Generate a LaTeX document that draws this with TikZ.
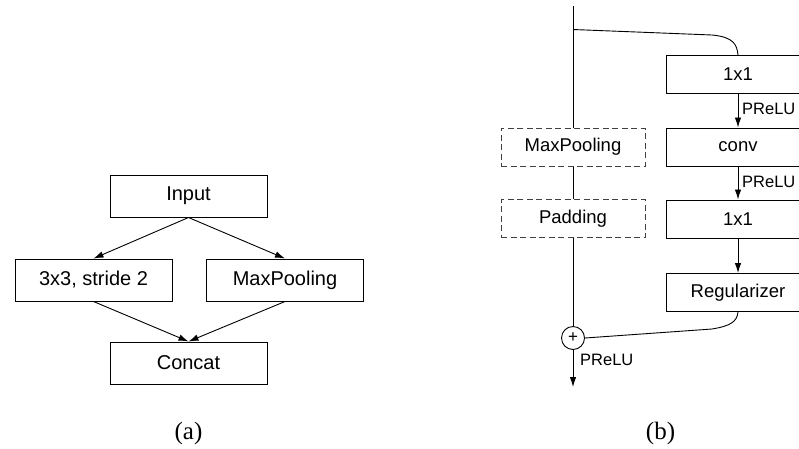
\documentclass[tikz,border=0pt]{standalone}
\usepackage{fontspec}
\newfontfamily\boxfont{Liberation Sans}
\newfontfamily\capfont{Liberation Serif}
\usetikzlibrary{arrows.meta}
\begin{document}
\begin{tikzpicture}[x=1pt,y=-1pt,
  blk/.style={draw, line width=1pt, minimum width=157pt, minimum height=42pt, inner sep=0pt, font=\boxfont\fontsize{20}{23}\selectfont},
  rblk/.style={draw, line width=1pt, minimum width=144pt, minimum height=38pt, inner sep=0pt, font=\boxfont\fontsize{18.5}{21}\selectfont},
  dblk/.style={rblk, draw=black!75, dash pattern=on 6pt off 3.5pt},
  conn/.style={line width=0.9pt},
  arr/.style={conn, -{Latex[length=10pt,width=6.5pt]}},
  lbl/.style={font=\boxfont\fontsize{16.5}{19}\selectfont, inner sep=0pt},
  captxt/.style={font=\capfont\fontsize{25}{28}\selectfont, inner sep=0pt}
]
\useasboundingbox (0,0) rectangle (799,448);
\clip (0,0) rectangle (799,448);
% (a)
\node[blk] (in) at (188.5,196) {Input};
\node[blk] (cv) at (93.5,280) {3x3, stride 2};
\node[blk] (mp) at (285,280) {MaxPooling};
\node[blk] (cc) at (188.5,363) {Concat};
\draw[arr] (in.south) -- (cv.north);
\draw[arr] (in.south) -- (mp.north);
\draw[arr] (cv.south) -- (cc.north);
\draw[arr] (mp.south) -- (cc.north);
\node[captxt] (la) at (188.5,433) {(a)};
% (b)
\node[rblk] (r1) at (738,74.5) {1x1};
\node[rblk] (r2) at (738,147) {conv};
\node[rblk] (r3) at (738,219) {1x1};
\node[rblk] (r4) at (738,292.5) {Regularizer};
\node[dblk] (dm) at (573,147) {MaxPooling};
\node[dblk] (dp) at (573,218.5) {Padding};
\node[draw, circle, line width=0.9pt, minimum size=23pt, inner sep=0pt, font=\boxfont\fontsize{17}{18}\selectfont] (pl) at (573,338) {+};
\coordinate (top) at (573,6);
\coordinate (br) at (573,29.5);
\coordinate (end) at (573,387);
\draw[conn] (top) -- (dm.north);
\draw[conn] (dm.south) -- (dp.north);
\draw[conn] (dp.south) -- (pl.north);
\draw[arr] (pl.south) -- (end);
\draw[conn] (br) -- (712,35) .. controls (734,37) and (737,45) .. (r1.north);
\draw[arr] (r1.south) -- (r2.north);
\draw[arr] (r2.south) -- (r3.north);
\draw[arr] (r3.south) -- (r4.north);
\draw[conn] (r4.south) .. controls (737,322) and (730,326) .. (712,329) -- (pl.east);
\node[lbl, anchor=west] (p1) at (742,109) {PReLU};
\node[lbl, anchor=west] (p2) at (742,182) {PReLU};
\node[lbl, anchor=west] (p3) at (580,360) {PReLU};
\node[captxt] (lb) at (660.5,433) {(b)};
\end{tikzpicture}
\end{document}
